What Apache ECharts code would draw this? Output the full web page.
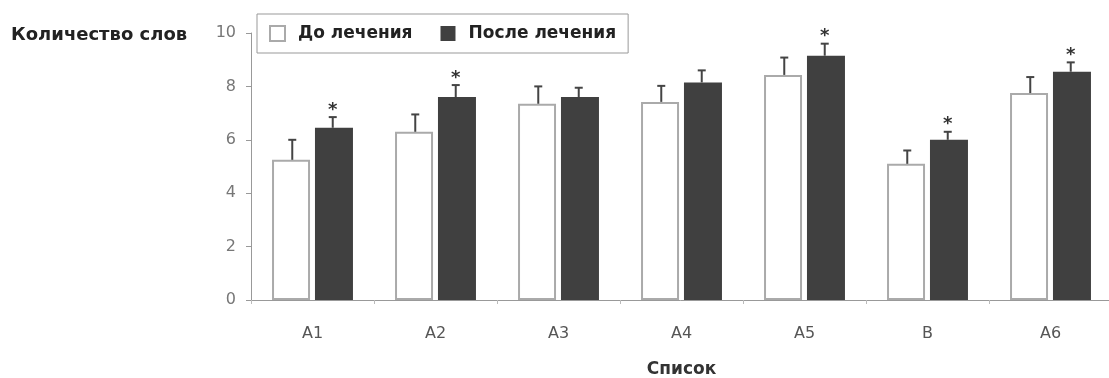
<!DOCTYPE html>
<html>
<head>
<meta charset="utf-8">
<script src="https://cdn.jsdelivr.net/npm/echarts@6/dist/echarts.min.js"></script>
<style>
  html, body { margin: 0; padding: 0; background: #fff; }
  #chart { width: 1109px; height: 378px; }
</style>
</head>
<body>
<div id="chart"></div>
<script>
// Word lists and mean word counts before / after treatment
const categories = ['A1', 'A2', 'A3', 'A4', 'A5', 'B', 'A6'];
const before = [5.25, 6.3, 7.35, 7.42, 8.43, 5.1, 7.75];
const after = [6.45, 7.6, 7.6, 8.15, 9.15, 6.0, 8.55];
// Upper error bar lengths
const beforeErr = [0.75, 0.65, 0.65, 0.6, 0.65, 0.5, 0.6];
const afterErr = [0.4, 0.45, 0.35, 0.45, 0.45, 0.3, 0.35];
// Significant change after treatment (marked with an asterisk)
const significant = [1, 1, 0, 0, 1, 1, 1];
const yTicks = { min: 0, max: 10, interval: 2 };

const FONT = 'DejaVu Sans';
const BAR_W = 38;
const BAR_GAP = '13%';
const HALF_STEP = (BAR_W * 2 + BAR_W * 0.13) / 4; // distance from category centre to each bar centre

function errorSeries(name, values, errs, side, marks) {
  return {
    type: 'custom',
    name: name + ' err',
    z: 5,
    silent: true,
    data: values.map((v, i) => [i, v, errs[i], marks ? marks[i] : 0]),
    renderItem: function (params, api) {
      const x = api.value(0);
      const v = api.value(1);
      const e = api.value(2);
      const base = api.coord([x, v]);
      const top = api.coord([x, v + e]);
      const cx = base[0] + side * HALF_STEP;
      const children = [
        { type: 'line', shape: { x1: cx, y1: base[1], x2: cx, y2: top[1] },
          style: { stroke: '#444', lineWidth: 2 } },
        { type: 'line', shape: { x1: cx - 4, y1: top[1], x2: cx + 4, y2: top[1] },
          style: { stroke: '#444', lineWidth: 2 } }
      ];
      if (api.value(3)) {
        children.push({
          type: 'text',
          style: { text: '*', x: cx, y: top[1] + 2, textAlign: 'center', textVerticalAlign: 'bottom',
                   fontSize: 18, fontWeight: 'bold', fontFamily: FONT, fill: '#333' }
        });
      }
      return { type: 'group', children: children };
    }
  };
}

const chart = echarts.init(document.getElementById('chart'), null, { renderer: 'canvas' });
chart.setOption({
  animation: false,
  backgroundColor: '#fff',
  title: {
    text: 'Количество слов',
    left: 6, top: 21,
    textStyle: { fontFamily: FONT, fontSize: 18, fontWeight: 'bold', color: '#222' }
  },
  legend: {
    left: 257, top: 14,
    padding: [11, 12],
    borderColor: '#999', borderWidth: 1,
    backgroundColor: '#fff',
    itemWidth: 15, itemHeight: 15,
    itemGap: 28,
    icon: 'rect',
    data: ['До лечения', 'После лечения'],
    textStyle: { fontFamily: FONT, fontSize: 17, fontWeight: 'bold', color: '#222', padding: [0, 0, 0, 8] }
  },
  grid: { left: 251, right: -3, top: 33, bottom: 78, containLabel: false, outerBoundsMode: 'none' },
  xAxis: {
    type: 'category',
    data: categories,
    name: 'Список',
    nameLocation: 'middle',
    nameGap: 61,
    nameTextStyle: { fontFamily: FONT, fontSize: 17, fontWeight: 'bold', color: '#333' },
    axisLine: { lineStyle: { color: '#999', width: 1 } },
    axisTick: { show: true, length: 4, lineStyle: { color: '#bbb' } },
    axisLabel: { fontFamily: FONT, fontSize: 16, color: '#555', margin: 26 }
  },
  yAxis: {
    type: 'value',
    min: yTicks.min, max: yTicks.max, interval: yTicks.interval,
    splitLine: { show: false },
    axisLine: { show: true, lineStyle: { color: '#999', width: 1 } },
    axisTick: { show: true, length: 5, lineStyle: { color: '#999' } },
    axisLabel: { fontFamily: FONT, fontSize: 16, color: '#777', margin: 15 }
  },
  series: [
    {
      name: 'До лечения',
      type: 'bar',
      data: before,
      barWidth: BAR_W,
      barGap: BAR_GAP,
      itemStyle: { color: '#fff', borderColor: '#aaa', borderWidth: 2 }
    },
    {
      name: 'После лечения',
      type: 'bar',
      data: after,
      barWidth: BAR_W,
      barGap: BAR_GAP,
      itemStyle: { color: '#404040' }
    },
    errorSeries('До лечения', before, beforeErr, -1, null),
    errorSeries('После лечения', after, afterErr, 1, significant)
  ]
});
</script>
</body>
</html>
